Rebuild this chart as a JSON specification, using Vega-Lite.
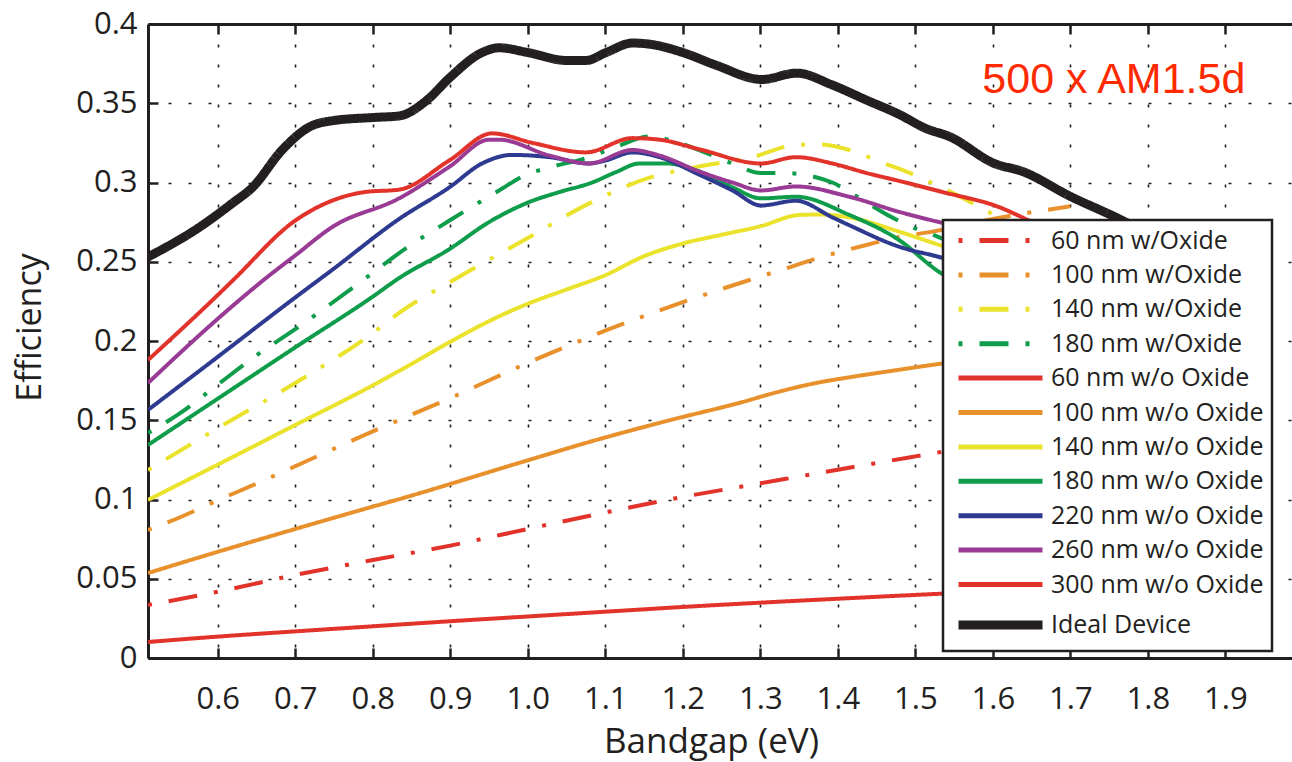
{
  "$schema": "https://vega.github.io/schema/vega-lite/v6.json",
  "width": 1144,
  "height": 634,
  "autosize": {"type": "none"},
  "padding": {"left": 148, "top": 24, "right": 0, "bottom": 104},
  "background": "white",
  "config": {
    "view": {"stroke": null},
    "font": "Open Sans",
    "axis": {
      "domainColor": "#231f20",
      "domainWidth": 3,
      "tickColor": "#231f20",
      "tickWidth": 2.5,
      "tickSize": -10,
      "gridColor": "#231f20",
      "gridDash": [3, 17],
      "gridWidth": 1.6,
      "gridOpacity": 1,
      "labelFont": "Open Sans",
      "labelFontSize": 31,
      "labelColor": "#231f20",
      "labelFlush": false,
      "labelOverlap": false,
      "titleFont": "Open Sans",
      "titleFontSize": 34,
      "titleFontWeight": "normal",
      "titleColor": "#231f20"
    },
    "legend": {
      "labelLimit": 400
    }
  },
  "datasets": {
    "curves": [
      {"series": "60 nm w/Oxide", "x": 0.51, "y": 0.0334},
      {"series": "60 nm w/Oxide", "x": 0.6, "y": 0.0418},
      {"series": "60 nm w/Oxide", "x": 0.7, "y": 0.0524},
      {"series": "60 nm w/Oxide", "x": 0.8, "y": 0.0618},
      {"series": "60 nm w/Oxide", "x": 0.9, "y": 0.0709},
      {"series": "60 nm w/Oxide", "x": 1.0, "y": 0.0814},
      {"series": "60 nm w/Oxide", "x": 1.1, "y": 0.0918},
      {"series": "60 nm w/Oxide", "x": 1.2, "y": 0.1016},
      {"series": "60 nm w/Oxide", "x": 1.3, "y": 0.1102},
      {"series": "60 nm w/Oxide", "x": 1.4, "y": 0.1188},
      {"series": "60 nm w/Oxide", "x": 1.5, "y": 0.1272},
      {"series": "60 nm w/Oxide", "x": 1.6, "y": 0.1355},
      {"series": "60 nm w/Oxide", "x": 1.7, "y": 0.1435},

      {"series": "100 nm w/Oxide", "x": 0.51, "y": 0.0808},
      {"series": "100 nm w/Oxide", "x": 0.55, "y": 0.0885},
      {"series": "100 nm w/Oxide", "x": 0.6, "y": 0.0995},
      {"series": "100 nm w/Oxide", "x": 0.65, "y": 0.110},
      {"series": "100 nm w/Oxide", "x": 0.7, "y": 0.121},
      {"series": "100 nm w/Oxide", "x": 0.8, "y": 0.143},
      {"series": "100 nm w/Oxide", "x": 0.9, "y": 0.164},
      {"series": "100 nm w/Oxide", "x": 1.0, "y": 0.1862},
      {"series": "100 nm w/Oxide", "x": 1.1, "y": 0.2065},
      {"series": "100 nm w/Oxide", "x": 1.2, "y": 0.2245},
      {"series": "100 nm w/Oxide", "x": 1.286, "y": 0.2385},
      {"series": "100 nm w/Oxide", "x": 1.328, "y": 0.245},
      {"series": "100 nm w/Oxide", "x": 1.372, "y": 0.252},
      {"series": "100 nm w/Oxide", "x": 1.437, "y": 0.2606},
      {"series": "100 nm w/Oxide", "x": 1.479, "y": 0.2656},
      {"series": "100 nm w/Oxide", "x": 1.522, "y": 0.269},
      {"series": "100 nm w/Oxide", "x": 1.6, "y": 0.277},
      {"series": "100 nm w/Oxide", "x": 1.7, "y": 0.285},

      {"series": "140 nm w/Oxide", "x": 0.51, "y": 0.1186},
      {"series": "140 nm w/Oxide", "x": 0.6, "y": 0.145},
      {"series": "140 nm w/Oxide", "x": 0.7, "y": 0.1735},
      {"series": "140 nm w/Oxide", "x": 0.8, "y": 0.205},
      {"series": "140 nm w/Oxide", "x": 0.834, "y": 0.2177},
      {"series": "140 nm w/Oxide", "x": 0.911, "y": 0.2404},
      {"series": "140 nm w/Oxide", "x": 1.0, "y": 0.265},
      {"series": "140 nm w/Oxide", "x": 1.08, "y": 0.287},
      {"series": "140 nm w/Oxide", "x": 1.16, "y": 0.3035},
      {"series": "140 nm w/Oxide", "x": 1.22, "y": 0.31},
      {"series": "140 nm w/Oxide", "x": 1.29, "y": 0.316},
      {"series": "140 nm w/Oxide", "x": 1.346, "y": 0.3237},
      {"series": "140 nm w/Oxide", "x": 1.376, "y": 0.324},
      {"series": "140 nm w/Oxide", "x": 1.415, "y": 0.3205},
      {"series": "140 nm w/Oxide", "x": 1.46, "y": 0.312},
      {"series": "140 nm w/Oxide", "x": 1.49, "y": 0.3066},
      {"series": "140 nm w/Oxide", "x": 1.52, "y": 0.300},
      {"series": "140 nm w/Oxide", "x": 1.566, "y": 0.289},
      {"series": "140 nm w/Oxide", "x": 1.596, "y": 0.281},
      {"series": "140 nm w/Oxide", "x": 1.65, "y": 0.27},

      {"series": "180 nm w/Oxide", "x": 0.51, "y": 0.142},
      {"series": "180 nm w/Oxide", "x": 0.55, "y": 0.154},
      {"series": "180 nm w/Oxide", "x": 0.6, "y": 0.1725},
      {"series": "180 nm w/Oxide", "x": 0.65, "y": 0.191},
      {"series": "180 nm w/Oxide", "x": 0.7, "y": 0.2075},
      {"series": "180 nm w/Oxide", "x": 0.8, "y": 0.243},
      {"series": "180 nm w/Oxide", "x": 0.834, "y": 0.2555},
      {"series": "180 nm w/Oxide", "x": 0.899, "y": 0.276},
      {"series": "180 nm w/Oxide", "x": 0.963, "y": 0.295},
      {"series": "180 nm w/Oxide", "x": 0.998, "y": 0.305},
      {"series": "180 nm w/Oxide", "x": 1.024, "y": 0.309},
      {"series": "180 nm w/Oxide", "x": 1.079, "y": 0.316},
      {"series": "180 nm w/Oxide", "x": 1.114, "y": 0.3225},
      {"series": "180 nm w/Oxide", "x": 1.157, "y": 0.329},
      {"series": "180 nm w/Oxide", "x": 1.195, "y": 0.325},
      {"series": "180 nm w/Oxide", "x": 1.221, "y": 0.3205},
      {"series": "180 nm w/Oxide", "x": 1.264, "y": 0.312},
      {"series": "180 nm w/Oxide", "x": 1.301, "y": 0.306},
      {"series": "180 nm w/Oxide", "x": 1.33, "y": 0.306},
      {"series": "180 nm w/Oxide", "x": 1.393, "y": 0.300},
      {"series": "180 nm w/Oxide", "x": 1.415, "y": 0.294},
      {"series": "180 nm w/Oxide", "x": 1.47, "y": 0.278},
      {"series": "180 nm w/Oxide", "x": 1.5, "y": 0.271},
      {"series": "180 nm w/Oxide", "x": 1.53, "y": 0.2656},
      {"series": "180 nm w/Oxide", "x": 1.6, "y": 0.25},

      {"series": "60 nm w/o Oxide", "x": 0.51, "y": 0.0101},
      {"series": "60 nm w/o Oxide", "x": 0.6, "y": 0.0135},
      {"series": "60 nm w/o Oxide", "x": 0.7, "y": 0.0168},
      {"series": "60 nm w/o Oxide", "x": 0.8, "y": 0.0200},
      {"series": "60 nm w/o Oxide", "x": 0.9, "y": 0.0232},
      {"series": "60 nm w/o Oxide", "x": 1.0, "y": 0.0262},
      {"series": "60 nm w/o Oxide", "x": 1.1, "y": 0.0292},
      {"series": "60 nm w/o Oxide", "x": 1.2, "y": 0.0322},
      {"series": "60 nm w/o Oxide", "x": 1.3, "y": 0.0349},
      {"series": "60 nm w/o Oxide", "x": 1.4, "y": 0.0374},
      {"series": "60 nm w/o Oxide", "x": 1.5, "y": 0.0398},
      {"series": "60 nm w/o Oxide", "x": 1.6, "y": 0.042},
      {"series": "60 nm w/o Oxide", "x": 1.7, "y": 0.044},

      {"series": "100 nm w/o Oxide", "x": 0.51, "y": 0.0536},
      {"series": "100 nm w/o Oxide", "x": 0.6, "y": 0.067},
      {"series": "100 nm w/o Oxide", "x": 0.7, "y": 0.0814},
      {"series": "100 nm w/o Oxide", "x": 0.8, "y": 0.0955},
      {"series": "100 nm w/o Oxide", "x": 0.834, "y": 0.1002},
      {"series": "100 nm w/o Oxide", "x": 0.993, "y": 0.1237},
      {"series": "100 nm w/o Oxide", "x": 1.088, "y": 0.1375},
      {"series": "100 nm w/o Oxide", "x": 1.183, "y": 0.150},
      {"series": "100 nm w/o Oxide", "x": 1.277, "y": 0.1615},
      {"series": "100 nm w/o Oxide", "x": 1.32, "y": 0.1675},
      {"series": "100 nm w/o Oxide", "x": 1.372, "y": 0.1735},
      {"series": "100 nm w/o Oxide", "x": 1.42, "y": 0.1775},
      {"series": "100 nm w/o Oxide", "x": 1.47, "y": 0.1812},
      {"series": "100 nm w/o Oxide", "x": 1.52, "y": 0.1848},
      {"series": "100 nm w/o Oxide", "x": 1.6, "y": 0.19},
      {"series": "100 nm w/o Oxide", "x": 1.7, "y": 0.195},

      {"series": "140 nm w/o Oxide", "x": 0.51, "y": 0.0997},
      {"series": "140 nm w/o Oxide", "x": 0.6, "y": 0.122},
      {"series": "140 nm w/o Oxide", "x": 0.7, "y": 0.147},
      {"series": "140 nm w/o Oxide", "x": 0.8, "y": 0.172},
      {"series": "140 nm w/o Oxide", "x": 0.85, "y": 0.1855},
      {"series": "140 nm w/o Oxide", "x": 0.9, "y": 0.1995},
      {"series": "140 nm w/o Oxide", "x": 0.95, "y": 0.2125},
      {"series": "140 nm w/o Oxide", "x": 1.0, "y": 0.2235},
      {"series": "140 nm w/o Oxide", "x": 1.05, "y": 0.2325},
      {"series": "140 nm w/o Oxide", "x": 1.1, "y": 0.2415},
      {"series": "140 nm w/o Oxide", "x": 1.15, "y": 0.2535},
      {"series": "140 nm w/o Oxide", "x": 1.2, "y": 0.2615},
      {"series": "140 nm w/o Oxide", "x": 1.25, "y": 0.267},
      {"series": "140 nm w/o Oxide", "x": 1.301, "y": 0.2725},
      {"series": "140 nm w/o Oxide", "x": 1.35, "y": 0.2795},
      {"series": "140 nm w/o Oxide", "x": 1.376, "y": 0.2798},
      {"series": "140 nm w/o Oxide", "x": 1.415, "y": 0.278},
      {"series": "140 nm w/o Oxide", "x": 1.479, "y": 0.269},
      {"series": "140 nm w/o Oxide", "x": 1.531, "y": 0.2606},
      {"series": "140 nm w/o Oxide", "x": 1.6, "y": 0.25},

      {"series": "180 nm w/o Oxide", "x": 0.51, "y": 0.1344},
      {"series": "180 nm w/o Oxide", "x": 0.6, "y": 0.1636},
      {"series": "180 nm w/o Oxide", "x": 0.7, "y": 0.196},
      {"series": "180 nm w/o Oxide", "x": 0.8, "y": 0.228},
      {"series": "180 nm w/o Oxide", "x": 0.834, "y": 0.2397},
      {"series": "180 nm w/o Oxide", "x": 0.899, "y": 0.258},
      {"series": "180 nm w/o Oxide", "x": 0.95, "y": 0.275},
      {"series": "180 nm w/o Oxide", "x": 1.002, "y": 0.2877},
      {"series": "180 nm w/o Oxide", "x": 1.041, "y": 0.294},
      {"series": "180 nm w/o Oxide", "x": 1.083, "y": 0.300},
      {"series": "180 nm w/o Oxide", "x": 1.114, "y": 0.3066},
      {"series": "180 nm w/o Oxide", "x": 1.144, "y": 0.312},
      {"series": "180 nm w/o Oxide", "x": 1.179, "y": 0.312},
      {"series": "180 nm w/o Oxide", "x": 1.221, "y": 0.307},
      {"series": "180 nm w/o Oxide", "x": 1.264, "y": 0.297},
      {"series": "180 nm w/o Oxide", "x": 1.301, "y": 0.290},
      {"series": "180 nm w/o Oxide", "x": 1.346, "y": 0.291},
      {"series": "180 nm w/o Oxide", "x": 1.415, "y": 0.2795},
      {"series": "180 nm w/o Oxide", "x": 1.479, "y": 0.2637},
      {"series": "180 nm w/o Oxide", "x": 1.531, "y": 0.2435},
      {"series": "180 nm w/o Oxide", "x": 1.6, "y": 0.228},

      {"series": "220 nm w/o Oxide", "x": 0.51, "y": 0.1565},
      {"series": "220 nm w/o Oxide", "x": 0.6, "y": 0.19},
      {"series": "220 nm w/o Oxide", "x": 0.696, "y": 0.226},
      {"series": "220 nm w/o Oxide", "x": 0.748, "y": 0.245},
      {"series": "220 nm w/o Oxide", "x": 0.834, "y": 0.277},
      {"series": "220 nm w/o Oxide", "x": 0.899, "y": 0.297},
      {"series": "220 nm w/o Oxide", "x": 0.941, "y": 0.312},
      {"series": "220 nm w/o Oxide", "x": 0.98, "y": 0.3174},
      {"series": "220 nm w/o Oxide", "x": 1.028, "y": 0.316},
      {"series": "220 nm w/o Oxide", "x": 1.079, "y": 0.312},
      {"series": "220 nm w/o Oxide", "x": 1.101, "y": 0.314},
      {"series": "220 nm w/o Oxide", "x": 1.135, "y": 0.319},
      {"series": "220 nm w/o Oxide", "x": 1.17, "y": 0.316},
      {"series": "220 nm w/o Oxide", "x": 1.221, "y": 0.305},
      {"series": "220 nm w/o Oxide", "x": 1.264, "y": 0.295},
      {"series": "220 nm w/o Oxide", "x": 1.301, "y": 0.2855},
      {"series": "220 nm w/o Oxide", "x": 1.346, "y": 0.2885},
      {"series": "220 nm w/o Oxide", "x": 1.393, "y": 0.278},
      {"series": "220 nm w/o Oxide", "x": 1.415, "y": 0.273},
      {"series": "220 nm w/o Oxide", "x": 1.479, "y": 0.2595},
      {"series": "220 nm w/o Oxide", "x": 1.531, "y": 0.253},
      {"series": "220 nm w/o Oxide", "x": 1.6, "y": 0.243},

      {"series": "260 nm w/o Oxide", "x": 0.51, "y": 0.1735},
      {"series": "260 nm w/o Oxide", "x": 0.6, "y": 0.214},
      {"series": "260 nm w/o Oxide", "x": 0.663, "y": 0.240},
      {"series": "260 nm w/o Oxide", "x": 0.7, "y": 0.254},
      {"series": "260 nm w/o Oxide", "x": 0.748, "y": 0.272},
      {"series": "260 nm w/o Oxide", "x": 0.834, "y": 0.29},
      {"series": "260 nm w/o Oxide", "x": 0.899, "y": 0.31},
      {"series": "260 nm w/o Oxide", "x": 0.95, "y": 0.327},
      {"series": "260 nm w/o Oxide", "x": 0.963, "y": 0.327},
      {"series": "260 nm w/o Oxide", "x": 1.028, "y": 0.317},
      {"series": "260 nm w/o Oxide", "x": 1.079, "y": 0.312},
      {"series": "260 nm w/o Oxide", "x": 1.135, "y": 0.3205},
      {"series": "260 nm w/o Oxide", "x": 1.17, "y": 0.317},
      {"series": "260 nm w/o Oxide", "x": 1.221, "y": 0.307},
      {"series": "260 nm w/o Oxide", "x": 1.264, "y": 0.300},
      {"series": "260 nm w/o Oxide", "x": 1.301, "y": 0.295},
      {"series": "260 nm w/o Oxide", "x": 1.346, "y": 0.2975},
      {"series": "260 nm w/o Oxide", "x": 1.415, "y": 0.291},
      {"series": "260 nm w/o Oxide", "x": 1.479, "y": 0.2815},
      {"series": "260 nm w/o Oxide", "x": 1.531, "y": 0.275},
      {"series": "260 nm w/o Oxide", "x": 1.6, "y": 0.268},

      {"series": "300 nm w/o Oxide", "x": 0.51, "y": 0.188},
      {"series": "300 nm w/o Oxide", "x": 0.6, "y": 0.229},
      {"series": "300 nm w/o Oxide", "x": 0.62, "y": 0.2385},
      {"series": "300 nm w/o Oxide", "x": 0.7, "y": 0.276},
      {"series": "300 nm w/o Oxide", "x": 0.75, "y": 0.289},
      {"series": "300 nm w/o Oxide", "x": 0.79, "y": 0.294},
      {"series": "300 nm w/o Oxide", "x": 0.834, "y": 0.2955},
      {"series": "300 nm w/o Oxide", "x": 0.899, "y": 0.314},
      {"series": "300 nm w/o Oxide", "x": 0.954, "y": 0.331},
      {"series": "300 nm w/o Oxide", "x": 1.006, "y": 0.325},
      {"series": "300 nm w/o Oxide", "x": 1.075, "y": 0.319},
      {"series": "300 nm w/o Oxide", "x": 1.135, "y": 0.328},
      {"series": "300 nm w/o Oxide", "x": 1.17, "y": 0.327},
      {"series": "300 nm w/o Oxide", "x": 1.221, "y": 0.321},
      {"series": "300 nm w/o Oxide", "x": 1.301, "y": 0.312},
      {"series": "300 nm w/o Oxide", "x": 1.346, "y": 0.316},
      {"series": "300 nm w/o Oxide", "x": 1.393, "y": 0.312},
      {"series": "300 nm w/o Oxide", "x": 1.437, "y": 0.306},
      {"series": "300 nm w/o Oxide", "x": 1.479, "y": 0.301},
      {"series": "300 nm w/o Oxide", "x": 1.535, "y": 0.294},
      {"series": "300 nm w/o Oxide", "x": 1.608, "y": 0.2845},
      {"series": "300 nm w/o Oxide", "x": 1.647, "y": 0.276},
      {"series": "300 nm w/o Oxide", "x": 1.7, "y": 0.265},

      {"series": "Ideal Device", "x": 0.51, "y": 0.253},
      {"series": "Ideal Device", "x": 0.577, "y": 0.272},
      {"series": "Ideal Device", "x": 0.619, "y": 0.287},
      {"series": "Ideal Device", "x": 0.645, "y": 0.297},
      {"series": "Ideal Device", "x": 0.683, "y": 0.3205},
      {"series": "Ideal Device", "x": 0.718, "y": 0.335},
      {"series": "Ideal Device", "x": 0.748, "y": 0.339},
      {"series": "Ideal Device", "x": 0.8, "y": 0.341},
      {"series": "Ideal Device", "x": 0.834, "y": 0.342},
      {"series": "Ideal Device", "x": 0.87, "y": 0.352},
      {"series": "Ideal Device", "x": 0.899, "y": 0.366},
      {"series": "Ideal Device", "x": 0.941, "y": 0.382},
      {"series": "Ideal Device", "x": 0.963, "y": 0.385},
      {"series": "Ideal Device", "x": 1.0, "y": 0.382},
      {"series": "Ideal Device", "x": 1.05, "y": 0.377},
      {"series": "Ideal Device", "x": 1.075, "y": 0.377},
      {"series": "Ideal Device", "x": 1.101, "y": 0.382},
      {"series": "Ideal Device", "x": 1.135, "y": 0.388},
      {"series": "Ideal Device", "x": 1.161, "y": 0.387},
      {"series": "Ideal Device", "x": 1.2, "y": 0.382},
      {"series": "Ideal Device", "x": 1.243, "y": 0.374},
      {"series": "Ideal Device", "x": 1.302, "y": 0.365},
      {"series": "Ideal Device", "x": 1.347, "y": 0.369},
      {"series": "Ideal Device", "x": 1.393, "y": 0.3615},
      {"series": "Ideal Device", "x": 1.437, "y": 0.352},
      {"series": "Ideal Device", "x": 1.479, "y": 0.343},
      {"series": "Ideal Device", "x": 1.514, "y": 0.334},
      {"series": "Ideal Device", "x": 1.544, "y": 0.329},
      {"series": "Ideal Device", "x": 1.602, "y": 0.312},
      {"series": "Ideal Device", "x": 1.638, "y": 0.307},
      {"series": "Ideal Device", "x": 1.701, "y": 0.291},
      {"series": "Ideal Device", "x": 1.759, "y": 0.278},
      {"series": "Ideal Device", "x": 1.8, "y": 0.268},
      {"series": "Ideal Device", "x": 1.9, "y": 0.25}
    ],
    "notes": [
      {"label": "500 x AM1.5d", "x": 1.5865, "y": 0.3565}
    ]
  },
  "layer": [
    {
      "data": {"name": "curves"},
      "mark": {"type": "line", "interpolate": "monotone", "clip": true},
      "encoding": {
        "x": {
          "field": "x", "type": "quantitative",
          "scale": {"domain": [0.51, 1.986], "nice": false, "zero": false},
          "axis": {
            "orient": "bottom",
            "title": "Bandgap (eV)",
            "values": [0.6, 0.7, 0.8, 0.9, 1.0, 1.1, 1.2, 1.3, 1.4, 1.5, 1.6, 1.7, 1.8, 1.9],
            "format": ".1f",
            "grid": true,
            "labelPadding": 60,
            "labelBaseline": "alphabetic",
            "titleFontSize": 35,
            "titleX": 563,
            "titleY": 94,
            "titleAlign": "center",
            "titleBaseline": "alphabetic"
          }
        },
        "y": {
          "field": "y", "type": "quantitative",
          "scale": {"domain": [0, 0.4], "nice": false},
          "axis": {
            "orient": "left",
            "title": "Efficiency",
            "values": [0, 0.05, 0.1, 0.15, 0.2, 0.25, 0.3, 0.35, 0.4],
            "format": "~g",
            "grid": true,
            "labelPadding": 21,
            "titleX": -118,
            "titleY": 303,
            "titleAngle": -90,
            "titleAlign": "center",
            "titleBaseline": "middle"
          }
        },
        "color": {
          "field": "series", "type": "nominal",
          "scale": {
            "domain": ["60 nm w/Oxide", "100 nm w/Oxide", "140 nm w/Oxide", "180 nm w/Oxide", "60 nm w/o Oxide", "100 nm w/o Oxide", "140 nm w/o Oxide", "180 nm w/o Oxide", "220 nm w/o Oxide", "260 nm w/o Oxide", "300 nm w/o Oxide", "Ideal Device"],
            "range": ["#e2332a", "#e8912c", "#ebe22c", "#0f9d4c", "#e2332a", "#e8912c", "#ebe22c", "#0f9d4c", "#2e3a8f", "#993b95", "#e2332a", "#231f20"]
          },
          "legend": {
            "title": null,
            "orient": "none",
            "legendX": 795,
            "legendY": 196,
            "symbolType": "stroke",
            "symbolSize": 7056,
            "symbolOffset": 37,
            "symbolDashOffset": 0,
            "labelFont": "Open Sans",
            "labelFontSize": 25,
            "labelColor": "#231f20",
            "labelOffset": 38,
            "labelLimit": 400,
            "rowPadding": 8.4,
            "padding": 8,
            "fillColor": "white",
            "strokeColor": "#231f20",
            "symbolLimit": 20,
            "encode": {
              "symbols": {"update": {"strokeWidth": {"signal": "datum.value === 'Ideal Device' ? 9 : 5"}}},
              "legend": {"update": {"strokeWidth": {"value": 2.5}}}
            }
          }
        },
        "strokeDash": {
          "field": "series", "type": "nominal",
          "scale": {
            "domain": ["60 nm w/Oxide", "100 nm w/Oxide", "140 nm w/Oxide", "180 nm w/Oxide", "60 nm w/o Oxide", "100 nm w/o Oxide", "140 nm w/o Oxide", "180 nm w/o Oxide", "220 nm w/o Oxide", "260 nm w/o Oxide", "300 nm w/o Oxide", "Ideal Device"],
            "range": [[4, 17, 29, 17], [4, 17, 29, 17], [4, 17, 29, 17], [4, 17, 29, 17], [1, 0], [1, 0], [1, 0], [1, 0], [1, 0], [1, 0], [1, 0], [1, 0]]
          },
          "legend": {
            "title": null,
            "orient": "none",
            "legendX": 795,
            "legendY": 196,
            "symbolType": "stroke",
            "symbolSize": 7056,
            "symbolOffset": 37,
            "symbolDashOffset": 0,
            "labelFont": "Open Sans",
            "labelFontSize": 25,
            "labelColor": "#231f20",
            "labelOffset": 38,
            "labelLimit": 400,
            "rowPadding": 8.4,
            "padding": 8,
            "fillColor": "white",
            "strokeColor": "#231f20",
            "symbolLimit": 20,
            "encode": {
              "symbols": {"update": {"strokeWidth": {"signal": "datum.value === 'Ideal Device' ? 9 : 5"}}},
              "legend": {"update": {"strokeWidth": {"value": 2.5}}}
            }
          }
        },
        "strokeWidth": {"condition": {"test": "datum.series === 'Ideal Device'", "value": 9}, "value": 4}
      }
    },
    {
      "data": {"name": "notes"},
      "mark": {"type": "text", "align": "left", "baseline": "alphabetic", "font": "Liberation Sans", "fontSize": 43, "color": "#ff2a00"},
      "encoding": {
        "x": {
          "field": "x", "type": "quantitative",
          "scale": {"domain": [0.51, 1.986], "nice": false, "zero": false},
          "axis": {
            "orient": "top",
            "title": null,
            "labels": false,
            "grid": false,
            "values": [0.6, 0.7, 0.8, 0.9, 1.0, 1.1, 1.2, 1.3, 1.4, 1.5, 1.6, 1.7, 1.8, 1.9]
          }
        },
        "y": {
          "field": "y", "type": "quantitative",
          "scale": {"domain": [0, 0.4], "nice": false},
          "axis": {
            "orient": "left",
            "title": "Efficiency",
            "values": [0, 0.05, 0.1, 0.15, 0.2, 0.25, 0.3, 0.35, 0.4],
            "format": "~g",
            "grid": true,
            "labelPadding": 21,
            "titleX": -118,
            "titleY": 303,
            "titleAngle": -90,
            "titleAlign": "center",
            "titleBaseline": "middle"
          }
        },
        "text": {"field": "label"}
      }
    }
  ]
}
